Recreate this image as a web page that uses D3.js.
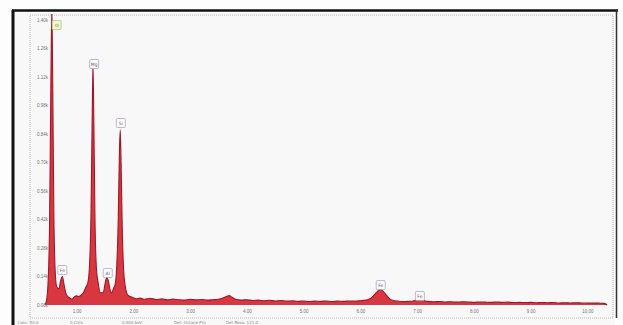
<!DOCTYPE html>
<html>
<head>
<meta charset="utf-8">
<script src="https://cdn.jsdelivr.net/npm/d3@7"></script>
<style>
  body { margin: 0; background: #fdfdfd; }
  svg { display: block; font-family: "DejaVu Sans", sans-serif; }
</style>
</head>
<body>
<figure id="spectrum" style="margin:0"></figure>
<script>
// spectrum (keV, counts)
const specKeV = [0.44, 0.47, 0.50, 0.525, 0.545, 0.565, 0.58, 0.60, 0.625, 0.65, 0.69, 0.72, 0.75, 0.78, 0.81, 0.85,
  0.88, 0.92, 0.96, 1.00, 1.04, 1.08, 1.12, 1.16, 1.20, 1.23, 1.255, 1.275, 1.29, 1.305, 1.325, 1.35, 1.38, 1.42,
  1.47, 1.50, 1.53, 1.56, 1.59, 1.62, 1.65, 1.68, 1.71, 1.735, 1.755, 1.77, 1.785, 1.805, 1.83, 1.86, 1.90,
  1.98, 2.05, 2.12, 2.20, 2.30, 2.40, 2.50, 2.60, 2.70, 2.80, 2.90, 3.00, 3.10, 3.20, 3.30, 3.40, 3.50,
  3.58, 3.64, 3.69, 3.74, 3.80, 3.90, 4.00, 4.10, 4.20, 4.30, 4.40, 4.50, 4.60, 4.70, 4.80, 4.90, 5.00,
  5.10, 5.20, 5.30, 5.40, 5.50, 5.60, 5.70, 5.80, 5.90, 6.00, 6.10, 6.18, 6.24, 6.30, 6.35, 6.40, 6.46,
  6.52, 6.58, 6.66, 6.75, 6.85, 6.93, 6.99, 7.05, 7.11, 7.18, 7.30, 7.40, 7.50, 7.60, 7.70, 7.80, 7.90,
  8.00, 8.10, 8.20, 8.30, 8.40, 8.50, 8.60, 8.70, 8.80, 8.90, 9.00, 9.10, 9.20, 9.30, 9.40, 9.50, 9.60,
  9.70, 9.80, 9.90, 10.00, 10.10, 10.20, 10.30, 10.35];
const specCounts = [0, 20, 120, 400, 1000, 1460, 1100, 450, 160, 90, 80, 120, 140, 100, 60, 40,
  35, 28, 40, 45, 42, 48, 60, 85, 110, 200, 450, 900, 1180, 900, 420, 180, 110, 60,
  60, 100, 135, 120, 75, 60, 80, 100, 200, 420, 740, 860, 700, 380, 170, 90, 50,
  38, 30, 34, 28, 33, 27, 30, 25, 29, 26, 24, 28, 25, 27, 24, 26, 28,
  34, 42, 46, 38, 28, 24, 26, 22, 24, 21, 23, 20, 22, 19, 21, 18, 20,
  17, 19, 18, 20, 17, 19, 18, 20, 19, 21, 24, 32, 48, 66, 76, 68, 48,
  30, 22, 19, 17, 18, 20, 24, 27, 23, 18, 16, 17, 15, 16, 14, 16, 15,
  13, 15, 14, 13, 15, 13, 14, 12, 13, 12, 13, 11, 12, 11, 12, 10, 11,
  10, 11, 10, 9, 10, 9, 8, 0];

// peak labels
const peakNames = ['O', 'Fe', 'Mg', 'Al', 'Si', 'Fe', 'Fe'];
const peakKeV = [0.65, 0.75, 1.31, 1.55, 1.78, 6.36, 7.05];
const peakLabelCounts = [1375, 172, 1184, 157, 894, 98, 44];

const yTicks = [0, 140, 280, 420, 560, 700, 840, 980, 1120, 1260, 1400];
const xTicks = [1, 2, 3, 4, 5, 6, 7, 8, 9, 10];
const statusItems = ['Lsec: 50.0', '0 Cnts', '0.000 keV', 'Det: Octane Pro', 'Det Reso: 121.0'];

const width = 623, height = 325;

const svg = d3.select('figure#spectrum')
  .append('svg')
  .attr('width', width)
  .attr('height', height);

svg.append('rect').attr('width', width).attr('height', height).attr('fill', '#fdfdfd');
svg.append('rect').attr('x', 14).attr('y', 11).attr('width', 601).attr('height', 314).attr('fill', '#f8f8f8');

const x = d3.scaleLinear().domain([0.18, 10.4]).range([30, 610]);
const y = d3.scaleLinear().domain([0, 1400]).range([305, 20]);

// plot frame (dotted)
svg.append('rect')
  .attr('x', 30).attr('y', 15).attr('width', 583).attr('height', 303)
  .attr('fill', 'none').attr('stroke', '#a8a8a8').attr('stroke-width', 0.8)
  .attr('stroke-dasharray', '1,1');

svg.append('clipPath').attr('id', 'plotclip')
  .append('rect').attr('x', 30).attr('y', 14).attr('width', 583).attr('height', 300);

const pts = specKeV.map((e, i) => [e, specCounts[i]]);

const area = d3.area()
  .x(d => x(d[0]))
  .y0(y(0))
  .y1(d => y(d[1]))
  .curve(d3.curveMonotoneX);

const line = d3.line()
  .x(d => x(d[0]))
  .y(d => y(d[1]))
  .curve(d3.curveMonotoneX);

const plot = svg.append('g').attr('clip-path', 'url(#plotclip)');
plot.append('path').attr('d', area(pts)).attr('fill', '#d8373f');
plot.append('path').attr('d', line(pts))
  .attr('fill', 'none').attr('stroke', '#a0162a').attr('stroke-width', 1.1);

// y axis labels inside the plot
svg.append('g')
  .attr('transform', 'translate(48,0)')
  .call(d3.axisLeft(y).tickValues(yTicks).tickSize(0).tickPadding(0)
    .tickFormat(d => (d / 1000).toFixed(2) + 'k'))
  .call(g => g.select('.domain').remove())
  .call(g => g.selectAll('.tick text').attr('fill', '#777').style('font-size', '4.5px'));

// x axis labels
svg.append('g')
  .attr('transform', 'translate(0,310)')
  .call(d3.axisBottom(x).tickValues(xTicks).tickSize(0).tickPadding(0)
    .tickFormat(d => d.toFixed(2)))
  .call(g => g.select('.domain').remove())
  .call(g => g.selectAll('.tick text').attr('fill', '#777').style('font-size', '4.5px'));

// peak label boxes
const labels = svg.append('g').selectAll('g')
  .data(peakNames)
  .join('g')
  .attr('transform', (d, i) => 'translate(' + x(peakKeV[i]) + ',' + y(peakLabelCounts[i]) + ')');

labels.append('rect')
  .attr('x', -4.5).attr('y', -4.5).attr('width', 9).attr('height', 9).attr('rx', 1)
  .attr('fill', (d, i) => i === 0 ? '#f4f6d0' : '#fbfbfb')
  .attr('stroke', (d, i) => i === 0 ? '#9cc46a' : '#a89ab8')
  .attr('stroke-width', 0.7);

labels.append('text')
  .attr('text-anchor', 'middle')
  .attr('dy', '0.35em')
  .attr('fill', '#666')
  .style('font-size', '4.5px')
  .text(d => d);

// scan frame
svg.append('line').attr('x1', 13).attr('x2', 13).attr('y1', 10).attr('y2', 325)
  .attr('stroke', '#111').attr('stroke-width', 3);
svg.append('line').attr('x1', 12).attr('x2', 618).attr('y1', 10.5).attr('y2', 10.5)
  .attr('stroke', '#111').attr('stroke-width', 2.5);
svg.append('line').attr('x1', 616.5).attr('x2', 616.5).attr('y1', 10).attr('y2', 318)
  .attr('stroke', '#333').attr('stroke-width', 1.5);

// status line
svg.append('g').selectAll('text')
  .data(statusItems)
  .join('text')
  .attr('x', (d, i) => 18 + i * 52)
  .attr('y', 324)
  .attr('fill', '#888')
  .style('font-size', '4px')
  .text(d => d);
</script>
</body>
</html>
